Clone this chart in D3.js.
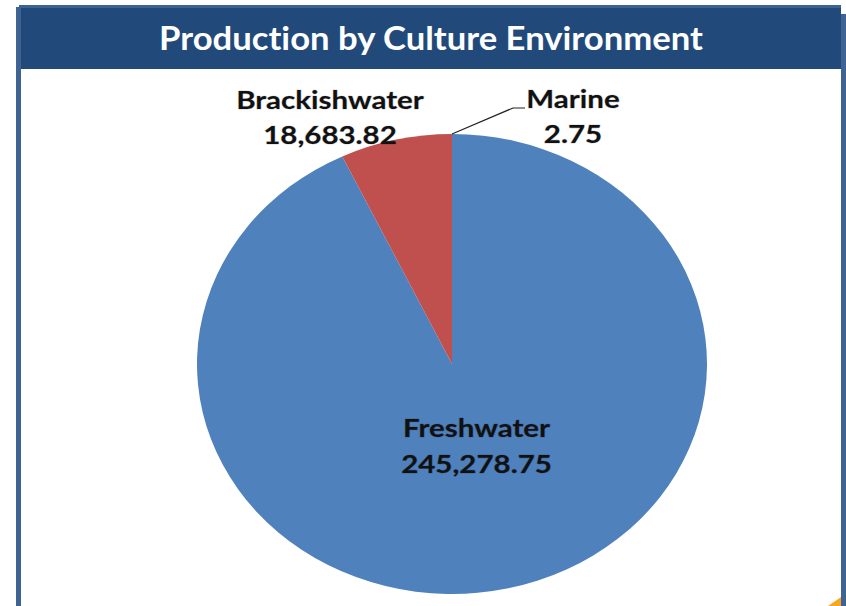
<!DOCTYPE html>
<html>
<head>
<meta charset="utf-8">
<script src="https://cdn.jsdelivr.net/npm/d3@7"></script>
<style>
  html, body { margin: 0; padding: 0; background: #fff; }
  svg { display: block; }
  text { font-family: Lato, "Open Sans", sans-serif; font-weight: 700; font-variant-ligatures: none; }
</style>
</head>
<body>
<svg id="chart" width="846" height="606"></svg>
<script>
// Production by culture environment
const categories = ["Freshwater", "Brackishwater", "Marine"];
const values = [245278.75, 18683.82, 2.75];
const valueLabels = ["245,278.75", "18,683.82", "2.75"];
const colors = ["#4f81bd", "#c0504d", "#9bbb59"];
const title = "Production by Culture Environment";

const W = 846, H = 606;
const svg = d3.select("#chart");

// Frame: side rules and header band
svg.append("rect").attr("x", 16).attr("y", 7).attr("width", 5).attr("height", H - 7).attr("fill", "#3f6392");
svg.append("rect").attr("x", 841).attr("y", 14).attr("width", 5).attr("height", H - 14).attr("fill", "#3f6392");
svg.append("rect").attr("x", 19).attr("y", 5).attr("width", 822).attr("height", 64).attr("fill", "#214a7b");
svg.append("rect").attr("x", 19).attr("y", 5).attr("width", 822).attr("height", 3).attr("fill", "#3c6290");
svg.append("rect").attr("x", 19).attr("y", 5).attr("width", 2).attr("height", 64).attr("fill", "#3c6290");

// Text block with a slight horizontal stretch
function stretchedText(x, y, lines, opts) {
  const t = svg.append("g")
    .attr("transform", `translate(${x},${y}) scale(${opts.sx},1)`)
    .append("text")
    .attr("text-anchor", "middle")
    .attr("fill", opts.fill)
    .style("font-size", opts.size + "px");
  if (opts.halo) {
    t.style("paint-order", "stroke")
      .style("stroke", "rgba(0,0,0,0.18)")
      .style("stroke-width", "1.2px");
  }
  lines.forEach((s, i) => t.append("tspan").attr("x", 0).attr("y", i * opts.lead).text(s));
  return t;
}

stretchedText(431, 50, [title], { sx: 1.05, size: 33, fill: "#ffffff", lead: 0 });

// Corner accent
svg.append("path")
  .attr("d", "M828,606 L841,597 L841,606 Z")
  .attr("fill", "#f7a823");

// Pie, drawn as a circle then squashed vertically into an ellipse
const cx = 452, cy = 364, rx = 255, ry = 230;
const data = categories.map((c, i) => ({ name: c, value: values[i], label: valueLabels[i], color: colors[i] }));
const pie = d3.pie().value(d => d.value).sort(null).startAngle(0).endAngle(2 * Math.PI);
const arcs = pie(data);
const arc = d3.arc().innerRadius(0).outerRadius(rx);

const g = svg.append("g")
  .attr("transform", `translate(${cx},${cy}) scale(1,${ry / rx})`);

g.selectAll("path.slice")
  .data(arcs)
  .join("path")
  .attr("class", "slice")
  .attr("d", arc)
  .attr("fill", d => d.data.color);

// Point on the ellipse edge for a given pie angle
function edge(angle, f = 1) {
  return [cx + rx * f * Math.sin(angle), cy - ry * f * Math.cos(angle)];
}

const labelOpts = { sx: 1.18, size: 25, fill: "#111", lead: 35, halo: true };

// Freshwater label inside its slice
const fresh = arcs[0];
const [fx, fy] = edge((fresh.startAngle + fresh.endAngle) / 2, 0.4);
stretchedText(fx + 2, fy - 17, [fresh.data.name, fresh.data.label], Object.assign({}, labelOpts, { lead: 36 }));

// Brackishwater label above-left of its slice
const brack = arcs[1];
stretchedText(330, 109, [brack.data.name, brack.data.label], labelOpts);

// Marine label with a leader line from its sliver of a slice
const marine = arcs[2];
const [mx, my] = edge((marine.startAngle + marine.endAngle) / 2);
svg.append("polyline")
  .attr("points", `${mx},${my} ${mx + 61},${my - 26} ${mx + 73},${my - 26}`)
  .attr("fill", "none")
  .attr("stroke", "#222")
  .attr("stroke-width", 1.2);
stretchedText(573, 108, [marine.data.name, marine.data.label], Object.assign({}, labelOpts, { lead: 35 }));
</script>
</body>
</html>
